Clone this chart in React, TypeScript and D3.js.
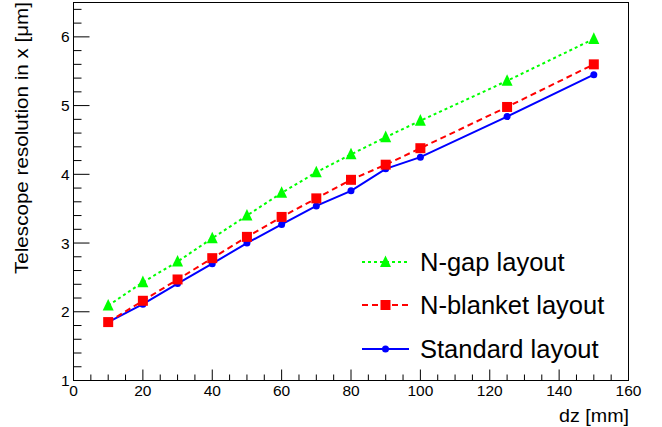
import React from "react";
import * as d3 from "d3";

const dz = [10, 20, 30, 40, 50, 60, 70, 80, 90, 100, 125, 150];
const standard = [1.85, 2.11, 2.41, 2.70, 3.00, 3.27, 3.54, 3.76, 4.08, 4.25, 4.84, 5.45];
const nBlanket = [1.85, 2.16, 2.47, 2.78, 3.09, 3.38, 3.65, 3.92, 4.14, 4.38, 4.98, 5.60];
const nGap = [2.09, 2.43, 2.73, 3.07, 3.40, 3.73, 4.03, 4.29, 4.54, 4.78, 5.36, 5.97];

const xTicks = [0, 20, 40, 60, 80, 100, 120, 140, 160];
const yTicks = [1, 2, 3, 4, 5, 6];
const legendLabels = ["N-gap layout", "N-blanket layout", "Standard layout"];

const W = 662;
const H = 427;
const FONT = "'Liberation Sans', Arial, Helvetica, sans-serif";

export default function App() {
  const left = 73.5, right = 628.5, top = 2.5, bottom = 380.5;
  const x = d3.scaleLinear().domain([0, 160]).range([left, right]);
  const y = d3.scaleLinear().domain([1, 6.5]).range([bottom, top]);

  const xMinor = d3.range(0, 160.001, 5).filter((v) => v % 20 !== 0);
  const yMinor = d3.range(1, 6.5001, 0.2).map((v) => Math.round(v * 10) / 10).filter((v) => Math.abs(v - Math.round(v)) > 1e-6);

  const line = d3
    .line<[number, number]>()
    .x((d) => x(d[0]))
    .y((d) => y(d[1]));

  const pts = (vals: number[]) => dz.map((v, i) => [v, vals[i]] as [number, number]);

  const triPath = (cx: number, cy: number, s: number) => {
    const h = s;
    return `M${cx},${cy - h * 0.6}L${cx + s / 2},${cy + h * 0.45}L${cx - s / 2},${cy + h * 0.45}Z`;
  };

  const series = [
    { vals: standard, color: "#0000ff", dash: undefined as string | undefined, marker: "circle" },
    { vals: nBlanket, color: "#ff0000", dash: "6,4", marker: "square" },
    { vals: nGap, color: "#00ff00", dash: "3,3", marker: "triangle" },
  ];

  const marker = (type: string, cx: number, cy: number, color: string, key: string) => {
    if (type === "circle") return <circle key={key} cx={cx} cy={cy} r={3.5} fill={color} />;
    if (type === "square") return <rect key={key} x={cx - 5} y={cy - 5} width={10} height={10} fill={color} />;
    return <path key={key} d={triPath(cx, cy, 11)} fill={color} />;
  };

  const legendItems = [
    { label: legendLabels[0], color: "#00ff00", dash: "3,3", marker: "triangle" },
    { label: legendLabels[1], color: "#ff0000", dash: "6,4", marker: "square" },
    { label: legendLabels[2], color: "#0000ff", dash: undefined as string | undefined, marker: "circle" },
  ];
  const legendY = [262, 305, 349];

  return (
    <svg width={W} height={H} style={{ position: "absolute", left: 0, top: 0, background: "#fff" }}>
      <rect x={0} y={0} width={W} height={H} fill="#fff" />
      {series.map((s, si) => (
        <g key={si}>
          <path d={line(pts(s.vals)) || ""} fill="none" stroke={s.color} strokeWidth={2} strokeDasharray={s.dash} />
          {pts(s.vals).map((p, i) => marker(s.marker, x(p[0]), y(p[1]), s.color, `${si}-${i}`))}
        </g>
      ))}
      <rect x={left} y={top} width={right - left} height={bottom - top} fill="none" stroke="#000" strokeWidth={1} />
      {xTicks.map((t) => (
        <g key={"xt" + t}>
          <line x1={x(t)} x2={x(t)} y1={bottom} y2={bottom - 11} stroke="#000" />
          <text x={x(t)} y={396} textAnchor="middle" fontFamily={FONT} fontSize={15.5} fill="#000">
            {t}
          </text>
        </g>
      ))}
      {xMinor.map((t) => (
        <line key={"xm" + t} x1={x(t)} x2={x(t)} y1={bottom} y2={bottom - 6} stroke="#000" />
      ))}
      {yTicks.map((t) => (
        <g key={"yt" + t}>
          <line x1={left} x2={left + 16} y1={y(t)} y2={y(t)} stroke="#000" />
          <text x={69.5} y={y(t) + 5.5} textAnchor="end" fontFamily={FONT} fontSize={15.5} fill="#000">
            {t}
          </text>
        </g>
      ))}
      {yMinor.map((t) => (
        <line key={"ym" + t} x1={left} x2={left + 8} y1={y(t)} y2={y(t)} stroke="#000" />
      ))}
      <text
        x={559}
        y={421.5}
        textLength={70}
        lengthAdjust="spacingAndGlyphs"
        fontFamily={FONT}
        fontSize={18.5}
        fill="#000"
      >
        dz [mm]
      </text>
      <text
        transform="translate(27.5,274) rotate(-90)"
        textLength={272}
        lengthAdjust="spacingAndGlyphs"
        fontFamily={FONT}
        fontSize={18.5}
        fill="#000"
      >
        Telescope resolution in x [μm]
      </text>
      {legendItems.map((it, i) => (
        <g key={"lg" + i}>
          <line x1={362} x2={409} y1={legendY[i]} y2={legendY[i]} stroke={it.color} strokeWidth={2} strokeDasharray={it.dash} />
          {marker(it.marker, 385.5, legendY[i], it.color, "lm" + i)}
          <text x={420} y={legendY[i] + 9} fontFamily={FONT} fontSize={25.5} fill="#000">
            {it.label}
          </text>
        </g>
      ))}
    </svg>
  );
}
